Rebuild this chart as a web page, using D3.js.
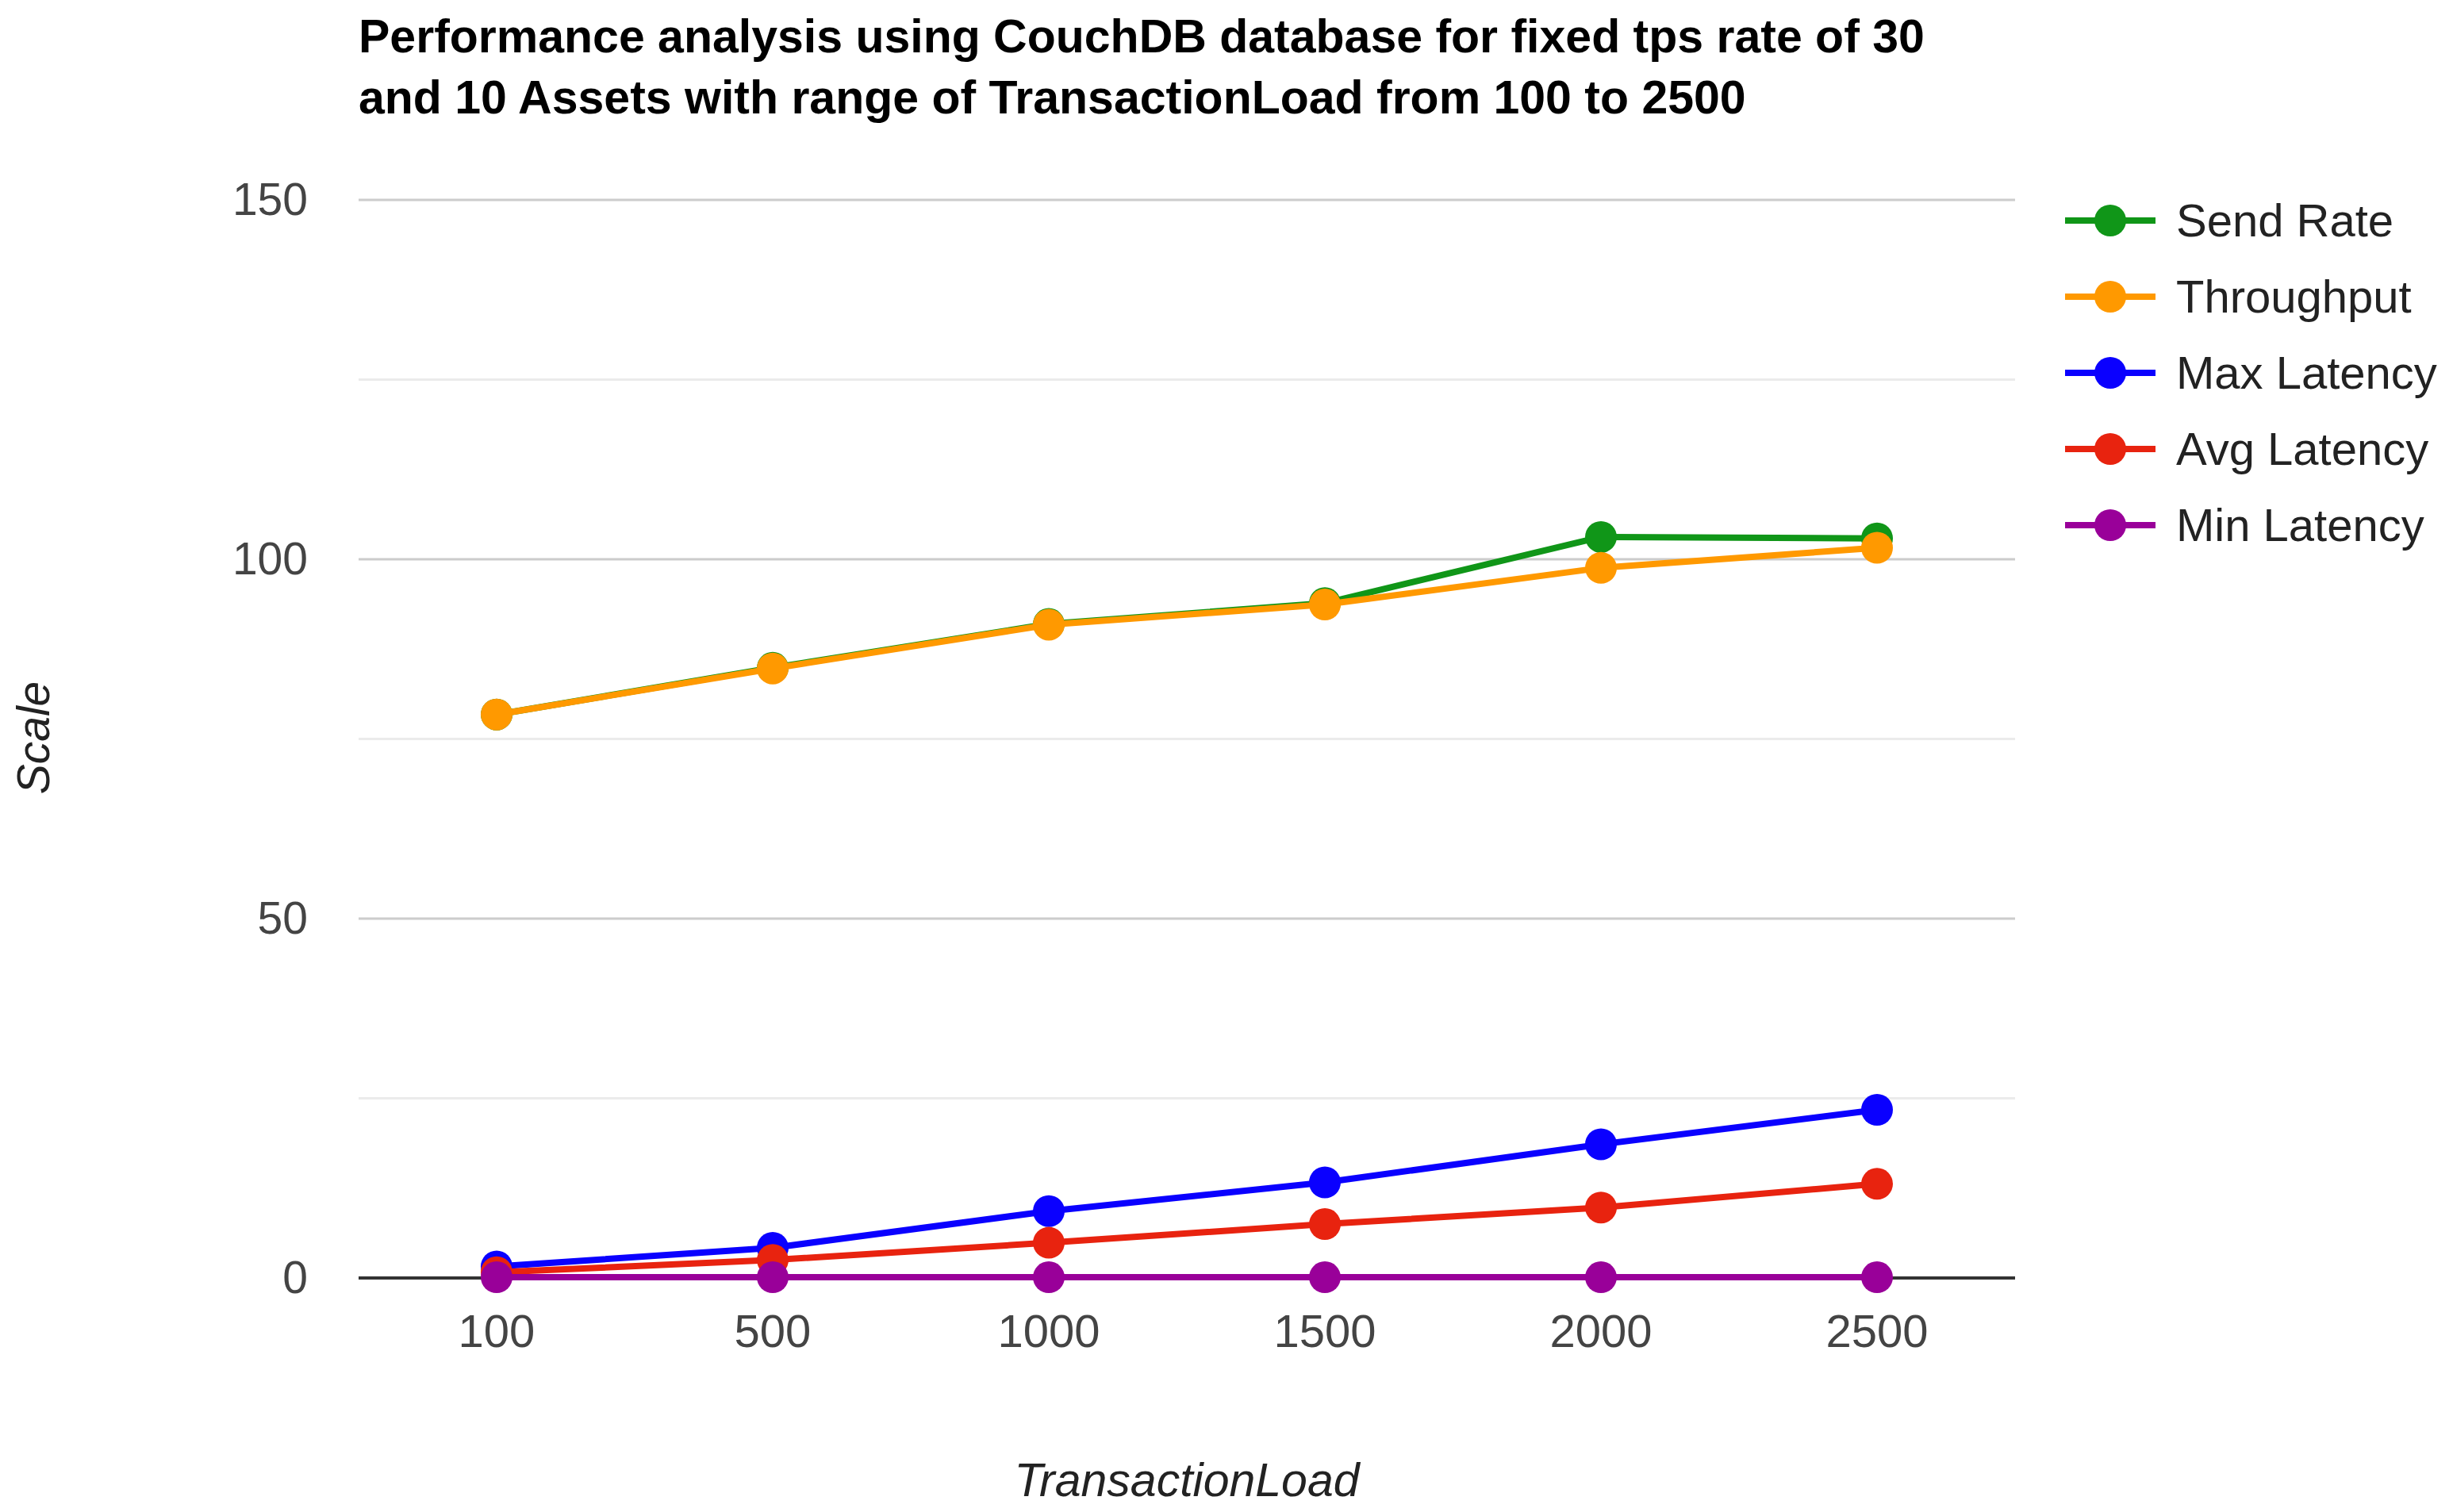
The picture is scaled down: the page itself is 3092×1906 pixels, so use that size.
<!DOCTYPE html>
<html>
<head>
<meta charset="utf-8">
<script src="https://cdn.jsdelivr.net/npm/d3@7"></script>
<style>
  body { margin: 0; background: #fff; }
  text { font-family: 'Liberation Sans', Arial, sans-serif; }
</style>
</head>
<body>
<svg id="chart" width="3092" height="1906"></svg>
<script>
// data
var loads = ['100', '500', '1000', '1500', '2000', '2500'];
var seriesNames = ['Send Rate', 'Throughput', 'Max Latency', 'Avg Latency', 'Min Latency'];
var sendRate = [78.4, 84.9, 91.0, 93.9, 103.1, 102.9];
var throughput = [78.4, 84.8, 90.9, 93.7, 98.8, 101.6];
var maxLatency = [1.6, 4.2, 9.3, 13.3, 18.6, 23.4];
var avgLatency = [0.8, 2.5, 4.9, 7.5, 9.8, 13.1];
var minLatency = [0.1, 0.1, 0.1, 0.1, 0.1, 0.1];
var yTicks = [0, 25, 50, 75, 100, 125, 150];
var titleLines = [
  'Performance analysis using CouchDB database for fixed tps rate of 30',
  'and 10 Assets with range of TransactionLoad from 100 to 2500'
];

var colors = ['#109618', '#ff9900', '#0a00ff', '#e8230f', '#990099'];
var allSeries = [sendRate, throughput, maxLatency, avgLatency, minLatency];

function renderChart() {
  var svg = d3.select('#chart'),
    margin = { top: 252, right: 552, bottom: 295, left: 452 },
    width = +svg.attr('width') - margin.left - margin.right,
    height = +svg.attr('height') - margin.top - margin.bottom;

  svg.append('rect').attr('width', 3092).attr('height', 1906).attr('fill', '#fff');

  var x = d3.scaleBand().domain(loads).range([0, width]);
  var y = d3.scaleLinear().domain([0, 150]).range([height, 0]);

  var g = svg
    .append('g')
    .attr('transform', 'translate(' + margin.left + ',' + margin.top + ')');

  // gridlines
  g.selectAll('.grid')
    .data(yTicks.filter((d) => d > 0))
    .join('line')
    .attr('x1', 0)
    .attr('x2', width)
    .attr('y1', (d) => y(d))
    .attr('y2', (d) => y(d))
    .attr('stroke', (d) => (d % 50 === 0 ? '#cccccc' : '#ebebeb'))
    .attr('stroke-width', 3);

  // baseline
  g.append('line')
    .attr('x1', 0)
    .attr('x2', width)
    .attr('y1', y(0))
    .attr('y2', y(0))
    .attr('stroke', '#333')
    .attr('stroke-width', 4);

  // Y axis labels
  var yAxis = g.append('g').call(
    d3.axisLeft(y).tickValues([0, 50, 100, 150]).tickSize(0).tickPadding(64)
  );
  yAxis.select('.domain').remove();
  yAxis.selectAll('text')
    .attr('font-size', 57)
    .attr('fill', '#444')
    .style('font-family', "'Liberation Sans', Arial, sans-serif");

  // X axis labels
  var xAxis = g.append('g')
    .attr('transform', 'translate(0,' + height + ')')
    .call(d3.axisBottom(x).tickSize(0).tickPadding(46));
  xAxis.select('.domain').remove();
  xAxis.selectAll('text')
    .attr('font-size', 58)
    .attr('fill', '#444')
    .style('font-family', "'Liberation Sans', Arial, sans-serif");

  var line = d3
    .line()
    .x((d, i) => x(loads[i]) + x.bandwidth() / 2)
    .y((d) => y(d));

  allSeries.forEach(function (values, k) {
    g.append('path')
      .datum(values)
      .attr('fill', 'none')
      .attr('stroke', colors[k])
      .attr('stroke-width', 8)
      .attr('stroke-linejoin', 'round')
      .attr('d', line);
    g.selectAll('.pt' + k)
      .data(values)
      .join('circle')
      .attr('cx', (d, i) => x(loads[i]) + x.bandwidth() / 2)
      .attr('cy', (d) => y(d))
      .attr('r', 20)
      .attr('fill', colors[k]);
  });

  // title
  svg.selectAll('.title')
    .data(titleLines)
    .join('text')
    .attr('x', 452)
    .attr('y', (d, i) => 66 + i * 77)
    .attr('font-size', 59)
    .attr('font-weight', 'bold')
    .attr('fill', '#000')
    .text((d) => d);

  // axis titles
  svg.append('text')
    .attr('x', margin.left + width / 2)
    .attr('y', 1886)
    .attr('text-anchor', 'middle')
    .attr('font-size', 59)
    .attr('font-style', 'italic')
    .attr('fill', '#222')
    .text('TransactionLoad');

  svg.append('text')
    .attr('transform', 'translate(62,' + 930 + ') rotate(-90)')
    .attr('text-anchor', 'middle')
    .attr('font-size', 57)
    .attr('font-style', 'italic')
    .attr('fill', '#222')
    .text('Scale');

  // legend
  var legend = svg.append('g').attr('transform', 'translate(2603,278)');
  var rows = legend.selectAll('.row')
    .data(seriesNames)
    .join('g')
    .attr('transform', (d, i) => 'translate(0,' + i * 96 + ')');
  rows.append('line')
    .attr('x1', 0)
    .attr('x2', 114)
    .attr('stroke', (d, i) => colors[i])
    .attr('stroke-width', 8);
  rows.append('circle')
    .attr('cx', 57)
    .attr('r', 20)
    .attr('fill', (d, i) => colors[i]);
  rows.append('text')
    .attr('x', 140)
    .attr('dy', '0.35em')
    .attr('font-size', 58)
    .attr('fill', '#222')
    .text((d) => d);
}

renderChart();
</script>
</body>
</html>
